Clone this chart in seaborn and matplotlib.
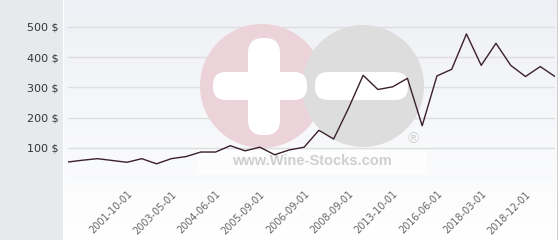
import numpy as np
import pandas as pd
import matplotlib
matplotlib.use("Agg")
import matplotlib.pyplot as plt
import matplotlib.transforms as mtransforms
from matplotlib.patches import Circle, FancyBboxPatch, Rectangle
import seaborn as sns

# ---- data ----
prices = [53, 59, 64, 58, 52, 64, 47, 64, 71, 86, 86, 107, 90, 102, 77, 93, 102,
          158, 129, 230, 340, 293, 302, 330, 173, 338, 360, 477, 373, 446, 373,
          336, 369, 336]
tick_labels = ["2001-10-01", "2003-05-01", "2004-06-01", "2005-09-01", "2006-09-01",
               "2008-09-01", "2013-10-01", "2016-06-01", "2018-03-01", "2018-12-01"]
tick_index = [4, 7, 10, 13, 16, 19, 22, 25, 28, 31]
y_ticks = [0, 100, 200, 300, 400, 500]
y_labels = ["", "100 $", "200 $", "300 $", "400 $", "500 $"]

df = pd.DataFrame({"idx": np.arange(len(prices)), "price": prices})

sns.set_style("white")
plt.rcParams["font.family"] = ["DejaVu Sans"]

W, H = 560, 240
fig = plt.figure(figsize=(W / 100, H / 100), dpi=100)
fig.patch.set_facecolor("white")

# background axes (gradient + left panel)
bg = fig.add_axes([0, 0, 1, 1], zorder=0)
bg.set_xlim(0, W)
bg.set_ylim(H, 0)
bg.axis("off")
grad = np.linspace(0, 1, 256).reshape(-1, 1)
top = np.array([0.933, 0.941, 0.961])
bot = np.array([1.0, 1.0, 1.0])
img = top[None, None, :] * (1 - grad[:, :, None]) + bot[None, None, :] * grad[:, :, None]
bg.imshow(img, extent=[64, 557, H, 0], aspect="auto", origin="upper")
bg.add_patch(Rectangle((0, 0), 62.5, H, color="#e6eaed", lw=0))
bg.add_patch(Rectangle((557, 0), 1, H, color="#cfcfcf", lw=0))

# main axes
left_px, right_px, top_px, bot_px = 68, 555, 0, 178
ax = fig.add_axes([left_px / W, 1 - bot_px / H, (right_px - left_px) / W, (bot_px - top_px) / H],
                  zorder=1)
ax.set_facecolor("none")
ax.set_axisbelow(True)

sns.lineplot(data=df, x="idx", y="price", ax=ax, color="#3a1f2c", lw=1.0, zorder=3)

ax.set_xlim(0, len(prices) - 1)
ax.set_ylim(0, bot_px / 0.302)
ax.set_yticks(y_ticks)
ax.set_yticklabels(y_labels, fontsize=8, color="#333333")
ax.set_xticks(tick_index)
ax.set_xticklabels(tick_labels, rotation=45, ha="right", rotation_mode="anchor",
                   fontsize=7, color="#666666")
offset = mtransforms.ScaledTranslation(4 / 100, 0, fig.dpi_scale_trans)
for lab in ax.get_xticklabels():
    lab.set_transform(lab.get_transform() + offset)
ax.tick_params(axis="both", length=0)
ax.tick_params(axis="y", pad=7)
ax.tick_params(axis="x", pad=8)
ax.grid(axis="y", color="#dedede", lw=1)
ax.grid(axis="x", visible=False)
for s in ax.spines.values():
    s.set_visible(False)
ax.set_xlabel("")
ax.set_ylabel("")

# watermark in pixel coordinates
pix = mtransforms.Affine2D().scale(1 / W, -1 / H).translate(0, 1) + fig.transFigure
wm_z = 2
ax.add_patch(Circle((262, 86), 62, transform=pix, color="#ecd3da", lw=0, zorder=wm_z))
ax.add_patch(FancyBboxPatch((248, 38), 32, 97, boxstyle="round,pad=0,rounding_size=15",
                            transform=pix, color="white", lw=0, zorder=wm_z))
ax.add_patch(Circle((363, 86), 61, transform=pix, color="#dddddd", lw=0, zorder=wm_z))
ax.add_patch(FancyBboxPatch((213, 72), 94, 28, boxstyle="round,pad=0,rounding_size=13",
                            transform=pix, color="white", lw=0, zorder=wm_z))
ax.add_patch(FancyBboxPatch((315, 72), 93, 28, boxstyle="round,pad=0,rounding_size=13",
                            transform=pix, color="white", lw=0, zorder=wm_z))
ax.add_patch(Rectangle((197, 150), 230, 24, transform=pix, color="white", alpha=0.7, lw=0,
                       zorder=wm_z))
ax.text(312, 161, "www.Wine-Stocks.com", transform=pix, ha="center", va="center",
        fontsize=10.5, weight="bold", color="#cfcfcf", family=["Liberation Sans"], zorder=wm_z)
ax.text(413, 139, "®", transform=pix, ha="center", va="center", fontsize=11,
        color="#d0d0d0", family=["Liberation Sans"], zorder=wm_z)

fig.savefig("out.png", dpi=100, facecolor="white")
